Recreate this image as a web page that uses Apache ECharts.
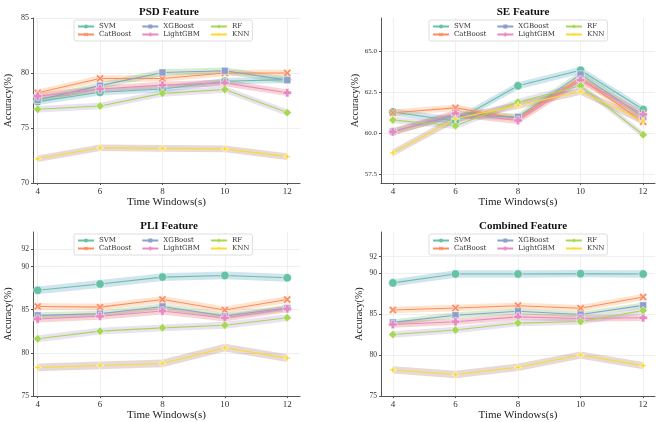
<!DOCTYPE html>
<html>
<head>
<meta charset="utf-8">
<script src="https://cdn.jsdelivr.net/npm/echarts@6/dist/echarts.min.js"></script>
<style>
html, body { margin: 0; background: #fff; }
#main { width: 661px; height: 422px; }
</style>
</head>
<body>
<div id="main"></div>
<script>
var windows = [4, 6, 8, 10, 12];
var models = ['SVM', 'CatBoost', 'XGBoost', 'LightGBM', 'RF', 'KNN'];

// PSD feature
var psdSVM = [77.4, 78.25, 78.55, 79.25, 79.4];
var psdCatBoost = [78.2, 79.5, 79.5, 80.0, 80.0];
var psdXGBoost = [77.55, 78.85, 80.05, 80.2, 79.35];
var psdLightGBM = [77.9, 78.55, 78.9, 79.1, 78.2];
var psdRF = [76.7, 77.0, 78.15, 78.5, 76.4];
var psdKNN = [72.2, 73.2, 73.15, 73.1, 72.4];
var psdSpread = [0.3, 0.3, 0.3, 0.3, 0.3, 0.3];

// SE feature
var seSVM = [61.3, 60.75, 62.9, 63.85, 61.45];
var seCatBoost = [61.25, 61.55, 60.9, 63.35, 60.7];
var seXGBoost = [60.1, 61.1, 61.0, 63.6, 61.0];
var seLightGBM = [60.08, 61.2, 60.78, 63.25, 61.15];
var seRF = [60.8, 60.45, 61.9, 62.9, 59.9];
var seKNN = [58.8, 60.88, 61.7, 62.55, 60.75];
var seSpread = [0.22, 0.2, 0.2, 0.22, 0.2, 0.22];

// PLI feature
var pliSVM = [87.25, 87.98, 88.78, 88.97, 88.7];
var pliCatBoost = [85.38, 85.3, 86.18, 84.96, 86.18];
var pliXGBoost = [84.35, 84.54, 85.38, 84.27, 85.2];
var pliLightGBM = [83.93, 84.24, 84.85, 84.05, 85.1];
var pliRF = [81.64, 82.52, 82.9, 83.2, 84.08];
var pliKNN = [78.32, 78.55, 78.78, 80.6, 79.4];
var pliSpread = [0.45, 0.4, 0.35, 0.4, 0.4, 0.45];

// Combined feature
var comSVM = [88.8, 89.88, 89.88, 89.92, 89.88];
var comCatBoost = [85.5, 85.74, 86.02, 85.7, 87.07];
var comXGBoost = [83.98, 84.86, 85.34, 84.94, 86.06];
var comLightGBM = [83.73, 84.06, 84.66, 84.46, 84.54];
var comRF = [82.5, 83.05, 83.9, 84.1, 85.42];
var comKNN = [78.19, 77.63, 78.51, 80.0, 78.71];
var comSpread = [0.45, 0.4, 0.35, 0.4, 0.4, 0.45];

var seTicks = [57.5, 60.0, 62.5, 65.0];
var psdTicks = [70, 75, 80, 85];
var highTicks = [75, 80, 85, 90, 92];

var lineColors = ['#66c2a5', '#fc8d62', '#8da0cb', '#e78ac3', '#a6d854', '#ffd92f'];
var bandColors = ['rgba(31,119,180,0.2)', 'rgba(255,127,14,0.2)', 'rgba(44,160,44,0.2)',
                  'rgba(214,39,40,0.2)', 'rgba(148,103,189,0.2)', 'rgba(140,86,75,0.22)'];
var symbols = [
    'circle',
    'path://M0,2L2,0L5,3L8,0L10,2L7,5L10,8L8,10L5,7L2,10L0,8L3,5Z',
    'rect',
    'path://M3,0H7V3H10V7H7V10H3V7H0V3H3Z',
    'diamond',
    'path://M5,0L6.4,3.6L10,5L6.4,6.4L5,10L3.6,6.4L0,5L3.6,3.6Z'
];
var symbolSizes = [8.5, 8, 7, 8.5, 8.5, 8];

var serif = 'Liberation Serif';

var panels = [
    { title: 'PSD Feature', data: [psdSVM, psdCatBoost, psdXGBoost, psdLightGBM, psdRF, psdKNN], spread: psdSpread,
      grid: { left: 33, top: 18, width: 267, height: 165 }, xMin: 3.85, xMax: 12.41,
      yMin: 70, yMax: 85, ticks: psdTicks, dec: 0, yFont: 8, yGap: 20, titlePos: [164, 2], legendPos: [74, 20] },
    { title: 'SE Feature', data: [seSVM, seCatBoost, seXGBoost, seLightGBM, seRF, seKNN], spread: seSpread,
      grid: { left: 381, top: 18, width: 274, height: 165 }, xMin: 3.62, xMax: 12.38,
      yMin: 56.95, yMax: 67.05, ticks: seTicks, dec: 1, yFont: 7, yGap: 17, titlePos: [518, 2], legendPos: [429, 20] },
    { title: 'PLI Feature', data: [pliSVM, pliCatBoost, pliXGBoost, pliLightGBM, pliRF, pliKNN], spread: pliSpread,
      grid: { left: 33, top: 232, width: 267, height: 165 }, xMin: 3.85, xMax: 12.41,
      yMin: 75, yMax: 94, ticks: highTicks, dec: 0, yFont: 7.5, yGap: 20, titlePos: [164, 216], legendPos: [74, 234] },
    { title: 'Combined Feature', data: [comSVM, comCatBoost, comXGBoost, comLightGBM, comRF, comKNN], spread: comSpread,
      grid: { left: 381, top: 232, width: 274, height: 165 }, xMin: 3.62, xMax: 12.38,
      yMin: 75, yMax: 95, ticks: highTicks, dec: 0, yFont: 7.5, yGap: 17, titlePos: [518, 216], legendPos: [429, 234] }
];

// band drawn as one polygon from the [x, low, high] rows of a custom series
function bandRenderer(color) {
    return function (params, api) {
        if (params.dataIndexInside !== 0) return;
        var n = params.dataInsideLength;
        var upper = [], lower = [];
        for (var k = 0; k < n; k++) {
            upper.push(api.coord([api.value(0, k), api.value(2, k)]));
            lower.unshift(api.coord([api.value(0, k), api.value(1, k)]));
        }
        return {
            type: 'polygon',
            shape: { points: upper.concat(lower) },
            style: { fill: color }
        };
    };
}

var titles = [], grids = [], xAxes = [], yAxes = [], legends = [], series = [];

panels.forEach(function (p, i) {
    titles.push({
        text: p.title, left: p.titlePos[0], top: p.titlePos[1], textAlign: 'center',
        textStyle: { fontFamily: serif, fontWeight: 'bold', fontSize: 11, color: '#111' }
    });
    grids.push(p.grid);
    xAxes.push({
        type: 'value', gridIndex: i, min: p.xMin, max: p.xMax,
        name: 'Time Windows(s)', nameLocation: 'middle', nameGap: 13,
        nameTextStyle: { fontFamily: serif, fontSize: 11, color: '#222' },
        axisLine: { show: true, lineStyle: { color: '#555', width: 1 } },
        axisTick: { show: true, customValues: windows, length: 2, lineStyle: { color: '#555' } },
        axisLabel: { customValues: windows, fontFamily: serif, fontSize: 9, color: '#333', margin: 4 },
        splitLine: { show: true, lineStyle: { color: '#ebebeb', width: 0.8 } }
    });
    yAxes.push({
        type: 'value', gridIndex: i, min: p.yMin, max: p.yMax,
        name: 'Accuracy(%)', nameLocation: 'middle', nameGap: p.yGap,
        nameTextStyle: { fontFamily: serif, fontSize: 10, color: '#222' },
        axisLine: { show: true, lineStyle: { color: '#555', width: 1 } },
        axisTick: { show: true, customValues: p.ticks, length: 2, lineStyle: { color: '#555' } },
        axisLabel: {
            customValues: p.ticks, fontFamily: serif, fontSize: p.yFont, color: '#333', margin: 4,
            formatter: function (v) { return Number(v).toFixed(p.dec); }
        },
        splitLine: { show: true, lineStyle: { color: '#ebebeb', width: 0.8 } }
    });
    legends.push({
        data: models, orient: 'vertical', left: p.legendPos[0], top: p.legendPos[1], height: 20,
        itemWidth: 16, itemHeight: 5, itemGap: 1, padding: [3, 3, 3, 3],
        backgroundColor: '#fff', borderColor: '#d6d6d6', borderWidth: 0.8, borderRadius: 2,
        selectedMode: false,
        itemStyle: { borderWidth: 0 },
        formatter: function (name) {
            return (name === 'RF' || name === 'KNN') ? '{c|' + name + '}' : '{p|' + name + '}';
        },
        textStyle: {
            fontFamily: 'DejaVu Serif', fontSize: 7, color: '#333',
            rich: {
                p: { fontFamily: 'DejaVu Serif', fontSize: 7, lineHeight: 9, padding: [0, 9, 0, 0] },
                c: { fontFamily: 'DejaVu Serif', fontSize: 7, lineHeight: 9 }
            }
        }
    });

    p.data.forEach(function (vals, j) {
        series.push({
            type: 'custom', name: 'band', xAxisIndex: i, yAxisIndex: i,
            data: windows.map(function (x, k) { return [x, vals[k] - p.spread[j], vals[k] + p.spread[j]]; }),
            encode: { x: 0, y: [1, 2] },
            renderItem: bandRenderer(bandColors[j]),
            silent: true, z: 1
        });
    });
    p.data.forEach(function (vals, j) {
        series.push({
            type: 'line', name: models[j], xAxisIndex: i, yAxisIndex: i,
            data: windows.map(function (x, k) { return [x, vals[k]]; }),
            symbol: symbols[j], symbolSize: symbolSizes[j],
            lineStyle: { color: lineColors[j], width: 1.1 },
            itemStyle: { color: lineColors[j], borderColor: '#fff', borderWidth: 0.5 },
            z: 3
        });
    });
});

var chart = echarts.init(document.getElementById('main'));
chart.setOption({
    animation: false,
    backgroundColor: '#fff',
    title: titles,
    grid: grids,
    xAxis: xAxes,
    yAxis: yAxes,
    legend: legends,
    series: series
});
</script>
</body>
</html>
